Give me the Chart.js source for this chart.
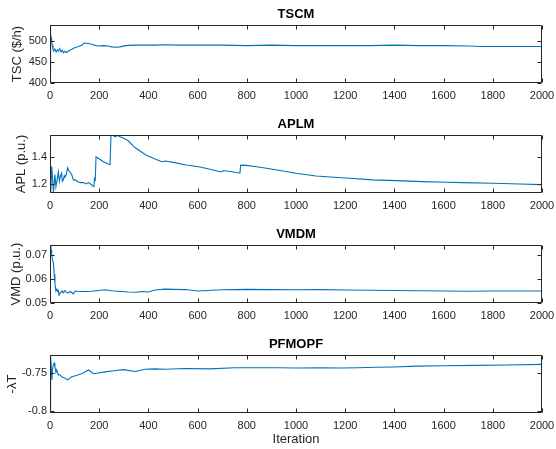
<!DOCTYPE html>
<html>
<head>
<meta charset="utf-8">
<script src="https://cdn.jsdelivr.net/npm/chart.js@4.4.1/dist/chart.umd.min.js"></script>
<style>
  html, body { margin: 0; padding: 0; background: #fff; }
  #wrap { position: relative; width: 556px; height: 449px; background: #fff; }
  .panel { position: absolute; left: 0; width: 556px; }
  canvas { display: block; }
</style>
</head>
<body>
<div id="wrap">
  <div class="panel" style="top:0px;height:110px"><canvas id="c1" width="556" height="110"></canvas></div>
  <div class="panel" style="top:110px;height:110px"><canvas id="c2" width="556" height="110"></canvas></div>
  <div class="panel" style="top:220px;height:110px"><canvas id="c3" width="556" height="110"></canvas></div>
  <div class="panel" style="top:330px;height:119px"><canvas id="c4" width="556" height="119"></canvas></div>
</div>
<script>
// ---------------- DATA ----------------
const xTicks = [0, 200, 400, 600, 800, 1000, 1200, 1400, 1600, 1800, 2000];

const tscIter = [0, 1, 2, 4, 7, 9, 12, 15, 20, 25, 30, 35, 40, 45, 50, 55, 61, 67, 75, 85, 100, 115, 128, 140, 155, 170, 183, 200, 217, 235, 250, 270, 285, 305, 340, 386, 430, 468, 520, 600, 700, 800, 900, 1000, 1100, 1200, 1300, 1400, 1500, 1600, 1700, 1750, 1800, 1900, 2000];
const tscVal  = [432, 538, 530, 515, 503, 490, 480, 476, 481, 474, 479, 476, 482, 474, 478, 472, 476, 472, 476, 479, 484, 487, 490, 495, 494, 492, 489.5, 488, 489, 488, 486, 485, 486, 489, 490, 490, 490, 491, 490, 490, 490, 489, 490, 489, 489, 489, 489, 490, 489, 489, 488, 487, 487, 487, 487];
const tscTicks = [400, 450, 500];

const aplIter = [0, 2, 4, 7, 10, 14, 20, 24, 27, 34, 38, 41, 47, 50, 54, 58, 61, 66, 72, 76, 81, 88, 95, 102, 115, 125, 136, 146, 156, 165, 172, 178, 181, 184, 187, 196, 217, 235, 244, 248, 255, 264, 275, 285, 298, 318, 345, 390, 427, 454, 468, 501, 555, 610, 663, 690, 700, 704, 740, 772, 775, 797, 840, 880, 935, 1000, 1081, 1203, 1312, 1406, 1515, 1610, 1678, 1800, 1909, 2000];
const aplVal  = [1.33, 1.30, 1.13, 1.33, 1.25, 1.14, 1.27, 1.18, 1.21, 1.29, 1.22, 1.25, 1.28, 1.22, 1.23, 1.26, 1.25, 1.27, 1.32, 1.30, 1.29, 1.27, 1.23, 1.23, 1.215, 1.21, 1.21, 1.20, 1.21, 1.20, 1.19, 1.18, 1.24, 1.23, 1.40, 1.39, 1.365, 1.35, 1.345, 1.56, 1.565, 1.55, 1.56, 1.55, 1.54, 1.52, 1.47, 1.415, 1.385, 1.365, 1.37, 1.36, 1.341, 1.326, 1.304, 1.29, 1.29, 1.30, 1.29, 1.28, 1.34, 1.338, 1.328, 1.316, 1.30, 1.279, 1.259, 1.244, 1.23, 1.225, 1.217, 1.213, 1.21, 1.205, 1.20, 1.195];
const aplTicks = [1.2, 1.4];

const vmdIter = [0, 3, 5, 7, 10, 14, 17, 20, 24, 28, 31, 34, 37, 41, 45, 50, 54, 58, 61, 66, 75, 82, 88, 95, 102, 120, 142, 170, 196, 224, 250, 290, 318, 350, 373, 400, 427, 468, 500, 550, 600, 620, 700, 800, 900, 1000, 1100, 1200, 1300, 1400, 1500, 1600, 1700, 1800, 1900, 2000];
const vmdVal  = [0.0745, 0.0742, 0.072, 0.0707, 0.068, 0.0665, 0.062, 0.0582, 0.055, 0.0558, 0.0548, 0.0552, 0.0533, 0.054, 0.0545, 0.055, 0.0542, 0.0548, 0.0552, 0.0545, 0.0542, 0.0548, 0.0544, 0.0538, 0.055, 0.0548, 0.0548, 0.0549, 0.0552, 0.0555, 0.0551, 0.0548, 0.0546, 0.0545, 0.0548, 0.0546, 0.0554, 0.0558, 0.0557, 0.0556, 0.055, 0.0551, 0.0555, 0.0557, 0.0556, 0.0555, 0.0556, 0.0554, 0.0553, 0.0552, 0.0551, 0.055, 0.0549, 0.055, 0.055, 0.055];
const vmdTicks = [0.05, 0.06, 0.07];

const ltIter = [0, 1, 2, 4, 6, 8, 10, 13, 17, 20, 24, 27, 34, 40, 47, 55, 61, 72, 80, 88, 100, 110, 128, 145, 156, 165, 176, 196, 224, 260, 300, 345, 360, 386, 427, 468, 550, 650, 750, 850, 930, 1000, 1100, 1190, 1250, 1325, 1400, 1488, 1600, 1732, 1850, 2000];
const ltVal  = [-0.7987, -0.775, -0.724, -0.728, -0.746, -0.759, -0.745, -0.74, -0.737, -0.742, -0.749, -0.746, -0.7526, -0.752, -0.755, -0.756, -0.757, -0.759, -0.757, -0.755, -0.754, -0.753, -0.751, -0.748, -0.746, -0.748, -0.751, -0.750, -0.7485, -0.747, -0.7455, -0.748, -0.747, -0.745, -0.7445, -0.745, -0.744, -0.7445, -0.743, -0.743, -0.743, -0.7435, -0.743, -0.7435, -0.743, -0.7425, -0.742, -0.741, -0.7405, -0.740, -0.7395, -0.7386];
const ltTicks = [-0.8, -0.75];

// ---------------- STYLE ----------------
const FONT = "'Liberation Sans', Arial, Helvetica, sans-serif";
const AXIS_COLOR = '#262626';
const LINE_COLOR = '#0072BD';

const boxTicks = {
  id: 'boxTicks',
  afterDraw(chart) {
    const ctx = chart.ctx;
    const a = chart.chartArea;
    const xs = chart.scales.x, ys = chart.scales.y;
    const L = Math.round(a.left) + 0.5, R = Math.round(a.right) - 0.5;
    const T = Math.round(a.top) + 0.5, B = Math.round(a.bottom) - 0.5;
    ctx.save();
    ctx.strokeStyle = AXIS_COLOR;
    ctx.lineWidth = 1;
    ctx.beginPath();
    ctx.rect(L, T, R - L, B - T);
    const tl = 4;
    xs.ticks.forEach(t => {
      const px = Math.round(xs.getPixelForValue(t.value)) + 0.5;
      ctx.moveTo(px, B); ctx.lineTo(px, B - tl);
      ctx.moveTo(px, T); ctx.lineTo(px, T + tl);
    });
    ys.ticks.forEach(t => {
      const py = Math.round(ys.getPixelForValue(t.value)) + 0.5;
      ctx.moveTo(L, py); ctx.lineTo(L + tl, py);
      ctx.moveTo(R, py); ctx.lineTo(R - tl, py);
    });
    ctx.stroke();
    ctx.restore();
  }
};

function makeChart(id, iters, vals, title, yLabel, yMin, yMax, yTicks, yLabelPad, xAxisH, showXTitle) {
  const pts = iters.map((x, i) => ({ x: x, y: vals[i] }));
  return new Chart(document.getElementById(id), {
    type: 'line',
    data: { datasets: [{ data: pts, borderColor: LINE_COLOR, borderWidth: 1.1, pointRadius: 0, tension: 0, fill: false }] },
    options: {
      responsive: false,
      animation: false,
      devicePixelRatio: 1,
      layout: { padding: { left: 0, right: 14, top: 0, bottom: 0 } },
      plugins: {
        legend: { display: false },
        tooltip: { enabled: false },
        title: {
          display: true, text: title, fullSize: false, color: '#000',
          font: { family: FONT, size: 13, weight: 'bold' },
          padding: { top: 6.2, bottom: 3.2 }
        }
      },
      scales: {
        x: {
          type: 'linear', min: 0, max: 2000,
          grid: { display: false, drawTicks: false },
          border: { display: false },
          afterBuildTicks: s => { s.ticks = xTicks.map(v => ({ value: v })); },
          afterFit: s => { s.height = xAxisH; s.paddingLeft = 0; s.paddingRight = 0; },
          ticks: { color: AXIS_COLOR, font: { family: FONT, size: 11 }, padding: 6, maxRotation: 0, autoSkip: false,
                   callback: v => String(v) },
          title: { display: showXTitle, text: 'Iteration', color: AXIS_COLOR,
                   font: { family: FONT, size: 13 }, padding: { top: 0, bottom: 1.5 } }
        },
        y: {
          type: 'linear', min: yMin, max: yMax,
          grid: { display: false, drawTicks: false },
          border: { display: false },
          afterBuildTicks: s => { s.ticks = yTicks.map(v => ({ value: v })); },
          afterFit: s => { s.width = 50; s.paddingTop = 0; s.paddingBottom = 0; },
          ticks: { color: AXIS_COLOR, font: { family: FONT, size: 11 }, padding: 3, autoSkip: false,
                   callback: v => String(v) },
          title: { display: true, text: yLabel, color: AXIS_COLOR,
                   font: { family: FONT, size: 13 }, padding: { top: yLabelPad, bottom: 0 } }
        }
      }
    },
    plugins: [boxTicks]
  });
}

makeChart('c1', tscIter, tscVal, 'TSCM', 'TSC ($/h)', 400, 538, tscTicks, 9.7, 27, false);
makeChart('c2', aplIter, aplVal, 'APLM', 'APL (p.u.)', 1.133, 1.563, aplTicks, 13.2, 27, false);
makeChart('c3', vmdIter, vmdVal, 'VMDM', 'VMD (p.u.)', 0.05, 0.0742, vmdTicks, 8.2, 27, false);
makeChart('c4', ltIter, ltVal, 'PFMOPF', '-λT', -0.8026, -0.7263, ltTicks, 4.2, 36, true);
</script>
</body>
</html>
